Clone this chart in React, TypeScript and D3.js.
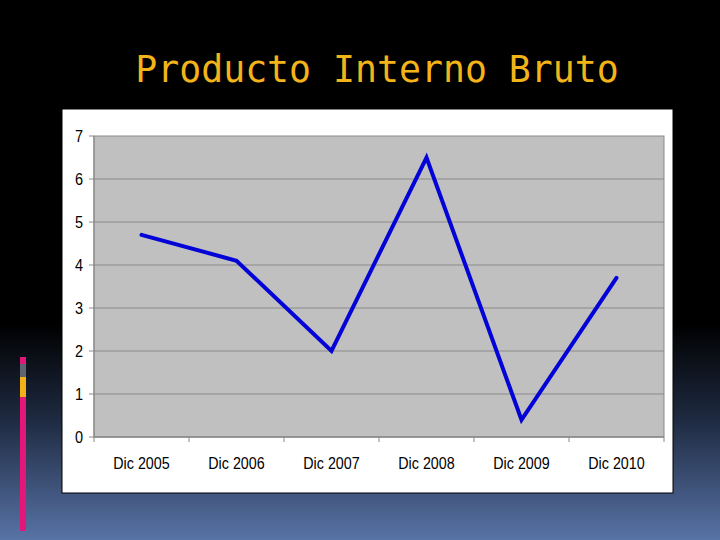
import React from "react";
import * as d3 from "d3";

const categories = ["Dic 2005", "Dic 2006", "Dic 2007", "Dic 2008", "Dic 2009", "Dic 2010"];
const values = [4.7, 4.1, 2.0, 6.5, 0.4, 3.7];
const yTicks = [0, 1, 2, 3, 4, 5, 6, 7];
const title = "Producto Interno Bruto";

export default function App() {
  const W = 720, H = 540;
  const plot = { left: 94, right: 664, top: 136, bottom: 437 };
  const x = d3.scaleBand<string>().domain(categories).range([plot.left, plot.right]);
  const y = d3.scaleLinear().domain([0, 7]).range([plot.bottom, plot.top]);
  const line = d3
    .line<number>()
    .x((_, i) => (x(categories[i]) as number) + x.bandwidth() / 2)
    .y((d) => y(d));
  const boundaries = [...categories.map((c) => x(c) as number), plot.right];
  const font = "'Liberation Sans', Arial, sans-serif";

  return (
    <svg
      width={W}
      height={H}
      style={{ position: "absolute", left: 0, top: 0, display: "block" }}
    >
      <defs>
        <linearGradient id="bg" x1="0" y1="0" x2="0" y2="1">
          <stop offset="0" stopColor="#000000" />
          <stop offset="0.6" stopColor="#000000" />
          <stop offset="0.78" stopColor="#1f2b42" />
          <stop offset="1" stopColor="#5873a6" />
        </linearGradient>
      </defs>
      <rect x={0} y={0} width={W} height={H} fill="url(#bg)" />

      {/* left decoration bar */}
      <rect x={20} y={357} width={6} height={7} fill="#e3177a" />
      <rect x={20} y={364} width={6} height={13} fill="#5f6470" />
      <rect x={20} y={377} width={6} height={20} fill="#f2b118" />
      <rect x={20} y={397} width={6} height={134} fill="#e3177a" />

      <text
        x={377}
        y={82}
        textAnchor="middle"
        fill="#f3b41a"
        fontFamily="'DejaVu Sans Mono', 'Liberation Mono', monospace"
        fontSize={36.5}
      >
        {title}
      </text>

      {/* chart panel */}
      <rect x={62} y={109} width={611} height={384} fill="#ffffff" stroke="#000" strokeWidth={1} />
      <rect
        x={plot.left}
        y={plot.top}
        width={plot.right - plot.left}
        height={plot.bottom - plot.top}
        fill="#c0c0c0"
        stroke="#8a8a8a"
        strokeWidth={1}
      />
      {yTicks.map((t) => (
        <g key={t}>
          {t > 0 && t < 7 && (
            <line x1={plot.left} x2={plot.right} y1={y(t)} y2={y(t)} stroke="#8a8a8a" strokeWidth={1.2} />
          )}
          <line x1={plot.left - 5} x2={plot.left} y1={y(t)} y2={y(t)} stroke="#8a8a8a" />
          <g transform={`translate(83,${y(t)}) scale(1,1.2)`}>
            <text dy="0.36em" textAnchor="end" fontFamily={font} fontSize={14.5} fill="#000">
              {t}
            </text>
          </g>
        </g>
      ))}
      <line x1={plot.left} x2={plot.left} y1={plot.top} y2={plot.bottom} stroke="#8a8a8a" strokeWidth={1.2} />
      <line x1={plot.left} x2={plot.right} y1={plot.bottom} y2={plot.bottom} stroke="#8a8a8a" strokeWidth={1.5} />
      {boundaries.map((b, i) => (
        <line key={i} x1={b} x2={b} y1={plot.bottom} y2={plot.bottom + 5} stroke="#8a8a8a" />
      ))}
      {categories.map((c) => (
        <g key={c} transform={`translate(${(x(c) as number) + x.bandwidth() / 2},468.5) scale(1,1.2)`}>
          <text textAnchor="middle" fontFamily={font} fontSize={14.3} fill="#000">
            {c}
          </text>
        </g>
      ))}
      <path
        d={line(values) || ""}
        fill="none"
        stroke="#0303d8"
        strokeWidth={4}
        strokeLinejoin="miter"
        strokeLinecap="round"
      />
    </svg>
  );
}
